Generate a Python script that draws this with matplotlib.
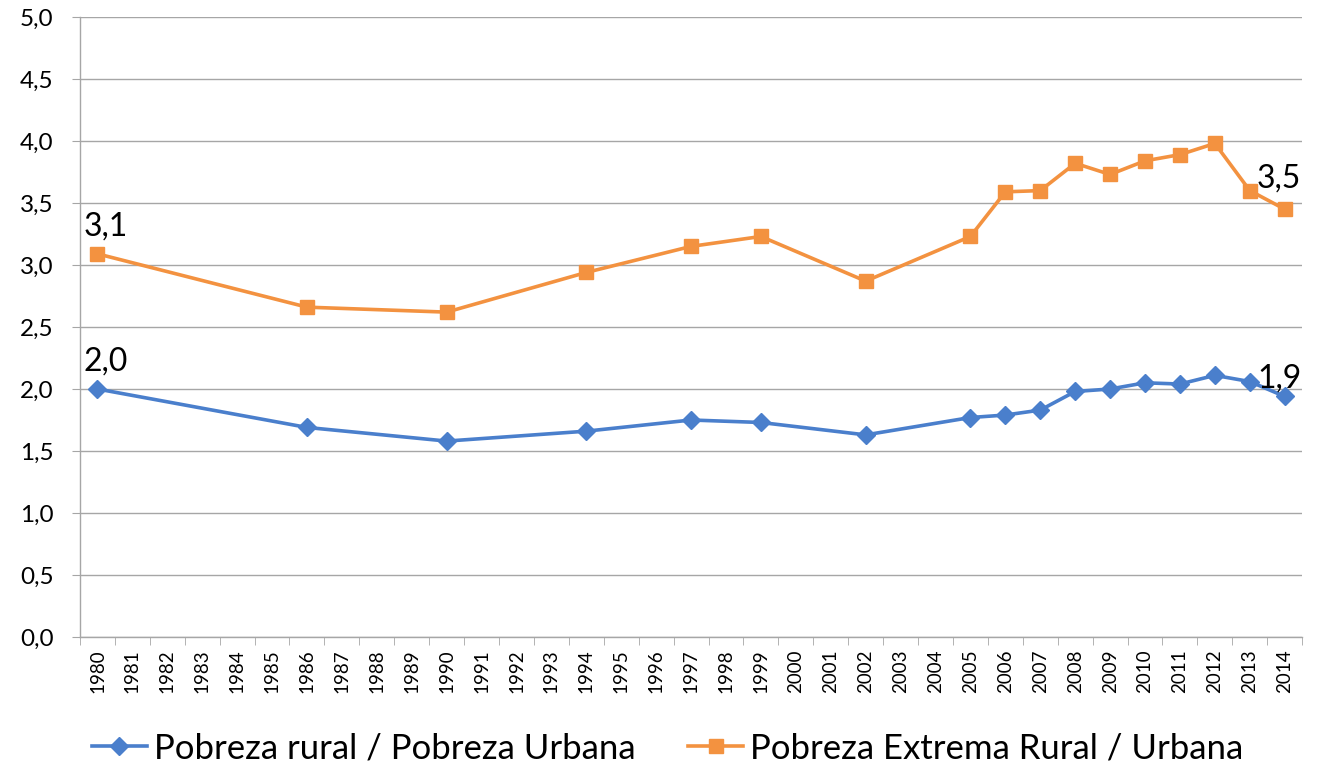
import numpy as np
import matplotlib.pyplot as plt
from matplotlib.ticker import FixedLocator

plt.rcParams['font.family'] = ['Lato', 'DejaVu Sans']

years = [str(y) for y in range(1980, 2015)]

# anos com dado observado (o Excel liga os pontos por cima dos anos sem dado)
data_years = [1980, 1986, 1990, 1994, 1997, 1999, 2002, 2005, 2006, 2007,
              2008, 2009, 2010, 2011, 2012, 2013, 2014]
rural_urbana = [2.00, 1.69, 1.58, 1.66, 1.75, 1.73, 1.63, 1.77, 1.79, 1.83,
                1.98, 2.00, 2.05, 2.04, 2.11, 2.06, 1.94]
extrema = [3.09, 2.66, 2.62, 2.94, 3.15, 3.23, 2.87, 3.23, 3.59, 3.60,
           3.82, 3.73, 3.84, 3.89, 3.98, 3.60, 3.45]

label_rural = 'Pobreza rural / Pobreza Urbana'
label_ext = 'Pobreza Extrema Rural / Urbana'

blue = '#4A7FCC'
orange = '#F39240'
grid = '#A6A6A6'

fig = plt.figure(figsize=(13.22, 7.65), dpi=100)
ax = fig.add_axes([0.0605, 0.1673, 0.9245, 0.8105])

xpos = [years.index(str(y)) for y in data_years]

ax.plot(xpos, rural_urbana, color=blue, lw=2.6, marker='D', markersize=9,
        label=label_rural)
ax.plot(xpos, extrema, color=orange, lw=2.6, marker='s', markersize=10,
        label=label_ext)

# rotulos do primeiro e do ultimo ponto (offsets em pontos)
offsets = {
    (0, 0): (6, 9), (0, -1): (-4, 2),
    (1, 0): (6, 9), (1, -1): (-4, 11),
}
for k, serie in enumerate((rural_urbana, extrema)):
    for i in (0, -1):
        ax.annotate(f'{serie[i]:.1f}'.replace('.', ','), (xpos[i], serie[i]),
                    xytext=offsets[(k, i)], textcoords='offset points',
                    ha='center', va='bottom', fontsize=23, color='black')

ax.set_xlim(-0.5, len(years) - 0.5)
ax.set_ylim(0, 5)
ax.set_yticks(np.arange(0, 5.01, 0.5))
ax.set_yticklabels([f'{v:.1f}'.replace('.', ',') for v in np.arange(0, 5.01, 0.5)])
ax.set_xticks(range(len(years)))
ax.set_xticklabels(years, rotation=90)
ax.xaxis.set_minor_locator(FixedLocator(np.arange(-0.5, len(years), 1)))
ax.tick_params(axis='x', which='major', length=0, pad=9, labelsize=13.5)
ax.tick_params(axis='x', which='minor', length=6, color=grid)
ax.tick_params(axis='y', length=6, color=grid, pad=13, labelsize=17.5)

ax.yaxis.grid(True, color=grid, lw=1)
ax.set_axisbelow(True)
for s in ('top', 'right'):
    ax.spines[s].set_visible(False)
for s in ('left', 'bottom'):
    ax.spines[s].set_color(grid)
    ax.spines[s].set_linewidth(1)

fig.legend(loc='center', bbox_to_anchor=(0.505, 0.022), ncol=2, frameon=False,
           fontsize=25, handlelength=1.6, handletextpad=0.2, columnspacing=1.5)

fig.savefig('out.png', dpi=100)
